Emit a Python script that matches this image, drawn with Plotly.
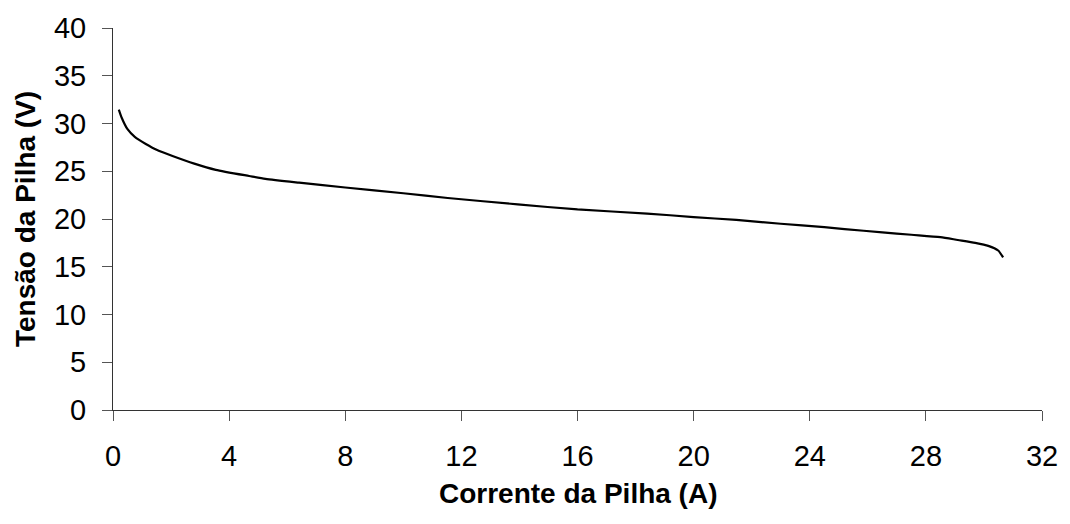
import plotly.graph_objects as go

current = [0.2, 0.3, 0.5, 0.75, 1.13, 1.5, 2.05, 2.8, 3.54, 4.69, 5.25, 6.41, 8.0, 10.0,
           11.53, 13.94, 16.0, 18.4, 20.0, 21.47, 23.0, 24.5, 25.2, 26.5, 27.5, 28.5,
           29.1, 29.7, 30.15, 30.49, 30.66]
voltage = [31.46, 30.6, 29.4, 28.6, 27.86, 27.25, 26.6, 25.8, 25.15, 24.5, 24.2, 23.8, 23.3, 22.7,
           22.2, 21.53, 21.0, 20.57, 20.2, 19.9, 19.5, 19.15, 18.95, 18.6, 18.35, 18.1,
           17.8, 17.5, 17.19, 16.7, 15.98]

x_ticks = [0, 4, 8, 12, 16, 20, 24, 28, 32]
y_ticks = [0, 5, 10, 15, 20, 25, 30, 35, 40]

FONT = "Liberation Sans, Arial, sans-serif"

fig = go.Figure()
fig.add_trace(go.Scatter(x=current, y=voltage, mode="lines",
                         line=dict(color="black", width=2.2, shape="spline", smoothing=0.6),
                         showlegend=False, hoverinfo="skip"))

fig.update_layout(
    width=1070, height=524,
    margin=dict(l=113, r=23, t=20, b=114),
    paper_bgcolor="white", plot_bgcolor="white",
    font=dict(family=FONT, color="black"),
    xaxis=dict(range=[0, 32], tickvals=x_ticks, ticktext=[str(v) for v in x_ticks],
               showgrid=False, zeroline=False, showline=True, linecolor="#333", linewidth=1,
               ticks="outside", ticklen=10, tickcolor="#555", tickwidth=1,
               tickfont=dict(size=29, family=FONT, color="black"), ticklabelstandoff=10),
    yaxis=dict(range=[0, 40], tickvals=y_ticks, ticktext=[str(v) for v in y_ticks],
               showgrid=False, zeroline=False, showline=True, linecolor="#333", linewidth=1,
               ticks="outside", ticklen=10, tickcolor="#555", tickwidth=1,
               tickfont=dict(size=29, family=FONT, color="black"), ticklabelstandoff=10),
    annotations=[
        dict(text="<b>Corrente da Pilha (A)</b>", xref="paper", yref="paper", x=0.5, y=0,
             xanchor="center", yanchor="middle", yshift=-83, showarrow=False,
             font=dict(size=28, family=FONT, color="black")),
        dict(text="<b>Tensão da Pilha (V)</b>", xref="paper", yref="paper", x=0, y=0.5,
             xanchor="center", yanchor="middle", xshift=-88, textangle=-90, showarrow=False,
             font=dict(size=28, family=FONT, color="black")),
    ],
)

fig.write_html("out.html")
